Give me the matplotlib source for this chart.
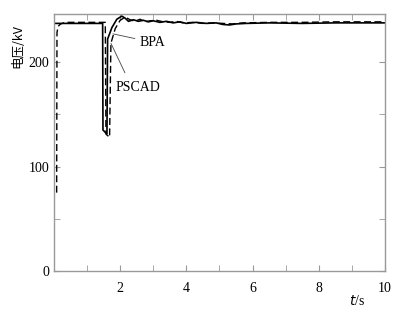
import matplotlib
matplotlib.use("Agg")
import matplotlib.pyplot as plt

# Solid curve
t_solid = [0.0, 1.47, 1.48, 1.60, 1.62, 1.75, 1.90, 2.05, 2.15, 2.25, 2.40, 2.55, 2.70, 2.85,
           3.0, 3.2, 3.4, 3.6, 3.8, 4.0, 4.3, 4.6, 4.9, 5.1, 5.3, 5.5, 5.8, 6.5, 7.5, 8.5, 10.0]
v_solid = [237, 237, 135, 131, 222, 233, 241, 244, 242, 239, 240.5, 239, 240, 238.5,
           239.5, 238, 239, 237.5, 238.5, 237, 238, 237, 237.5, 236, 235.5, 236.5, 237, 237.5, 237, 237.5, 237.5]

# Dashed curve
t_dash = [0.08, 0.09, 0.12, 0.2, 0.35, 0.6, 1.55, 1.57, 1.68, 1.72, 1.85, 2.0, 2.15, 2.3, 2.45,
          2.6, 2.75, 2.9, 3.1, 3.3, 3.5, 3.7, 3.9, 4.2, 4.5, 4.8, 5.1, 5.4, 5.7, 6.5, 7.5, 8.5, 10.0]
v_dash = [75, 228, 234, 236.5, 238, 238, 238, 131, 128, 218, 232, 240, 243, 240.5, 239,
          241, 238.5, 239.5, 240, 238.5, 238, 239, 237.5, 238, 237, 237.5, 237, 236.5, 237.5, 238, 238, 238.5, 238.5]

x_ticks_major = [2, 4, 6, 8, 10]
x_ticks_minor = [1, 3, 5, 7, 9]
y_ticks_major = [0, 100, 200]
y_ticks_minor = [50, 150]

plt.rcParams['font.family'] = ['Liberation Serif', 'Noto Sans CJK SC']
fig = plt.figure(figsize=(4.17, 3.16), dpi=100)
ax = fig.add_axes([0.1295, 0.1424, 0.7935, 0.8133])

ax.plot(t_solid, v_solid, color='black', lw=1.2, solid_joinstyle='miter')
ax.plot(t_dash, v_dash, color='black', lw=1.0, dashes=(5, 2.5))

ax.set_xlim(0, 10)
ax.set_ylim(0, 246)
ax.set_xticks(x_ticks_major)
ax.set_xticks(x_ticks_minor, minor=True)
ax.set_yticks(y_ticks_major)
ax.set_yticks(y_ticks_minor, minor=True)
ax.tick_params(which='both', direction='in', top=True, right=True, color='#999999',
               labelsize=10, length=4)
ax.tick_params(axis='x', pad=8)
for s in ax.spines.values():
    s.set_color('#999999')
    s.set_linewidth(1.0)

ax.annotate('BPA', xy=(1.78, 227), xytext=(2.57, 219), fontsize=10,
            va='center', ha='left',
            arrowprops=dict(arrowstyle='-', color='#444444', lw=0.6, shrinkA=1, shrinkB=0))
ax.annotate('PSCAD', xy=(1.72, 218), xytext=(1.85, 176), fontsize=10,
            va='center', ha='left',
            arrowprops=dict(arrowstyle='-', color='#444444', lw=0.6, shrinkA=4, shrinkB=0,
                            relpos=(0.3, 1.0)))

fig.text(18/417, 1 - 46/316, '电压/kV', rotation=90, ha='center', va='center',
         fontsize=9, family=['Noto Sans CJK SC', 'DejaVu Sans'])
fig.text(357/417, 1 - 301/316, r'$t$/s', ha='center', va='center', fontsize=10)

fig.savefig('out.png', dpi=100)
